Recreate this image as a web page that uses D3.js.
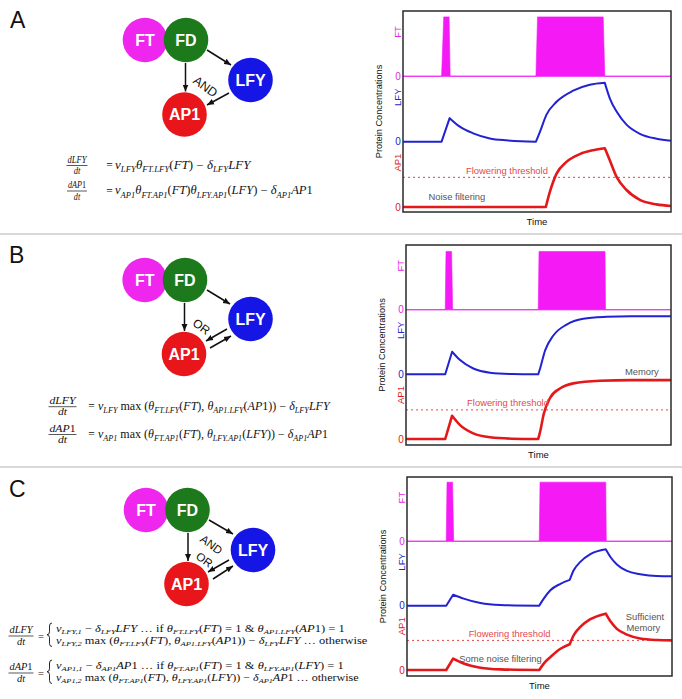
<!DOCTYPE html>
<html><head><meta charset="utf-8">
<script src="https://cdn.jsdelivr.net/npm/d3@7/dist/d3.min.js"></script>
<style>html,body{margin:0;padding:0;background:#fff}svg{display:block}</style>
</head><body>
<svg id="fig" width="682" height="699" xmlns="http://www.w3.org/2000/svg"></svg>
<script>
// ===================== DATA =====================
const timeDomain = [0, 100];
const seriesNames = ["FT", "LFY", "AP1"];
const zeroTick = "0";
const xAxisTitle = "Time";
const yAxisTitle = "Protein Concentrations";
const nodeNames = ["FT", "FD", "LFY", "AP1"];
const thresholdLabel = "Flowering threshold";

// Panel A (AND gate)  -- [time, level in band units]
const ftA  = [[0,0],[14.4,0],[15.2,0.91],[17.2,0.91],[17.6,0],[49.6,0],[50.2,0.91],[74.7,0.91],[75.3,0],[100,0]];
const lfyA = [[0,0],[14.4,0],[17.4,0.36],[21.2,0.23],[26.2,0.128],[32.4,0.05],[38.6,0.02],[44,0.006],[49.6,0],[51.1,0.15],[53.5,0.41],[57.3,0.61],[63.5,0.78],[69.7,0.87],[75.3,0.9],[77.2,0.66],[79.7,0.46],[83.4,0.26],[88.4,0.12],[94.6,0.045],[100,0.015]];
const ap1A = [[0,0],[53.3,0],[54.8,0.23],[57.3,0.51],[61,0.69],[66,0.81],[71,0.87],[75.3,0.9],[77.2,0.71],[79.7,0.46],[83.4,0.26],[88.4,0.11],[94.6,0.04],[100,0.015]];
const cornersA = [14.4, 17.4, 49.6, 53.3, 75.3];
const thresholdA = 0.454;
const notesA = [{text:"Noise filtering", t:20.1, v:0.105}];

// Panel B (OR gate with feedback)
const ftB  = [[0,0],[14.8,0],[15.1,0.9],[17.2,0.9],[17.6,0],[49.9,0],[50.2,0.9],[75.1,0.9],[75.3,0],[100,0]];
const lfyB = [[0,0],[14.8,0],[17.4,0.35],[20.4,0.22],[25.4,0.09],[31.7,0.026],[40,0.005],[49.9,0],[50.6,0.09],[52.5,0.37],[55.6,0.6],[60.6,0.77],[66.9,0.86],[75.7,0.89],[85,0.9],[100,0.9]];
const ap1B = [[0,0],[14.8,0],[17.4,0.36],[20.4,0.215],[25.4,0.087],[31.7,0.026],[40,0.005],[49.9,0],[50.6,0.11],[52,0.39],[54.3,0.63],[58.1,0.78],[63.1,0.86],[73.2,0.9],[85,0.91],[100,0.91]];
const cornersB = [14.8, 17.4, 49.9];
const thresholdB = 0.45;
const notesB = [{text:"Memory", t:89, v:0.99}];

// Panel C (AND / OR)
const ftC  = [[0,0],[14.8,0],[15.1,0.92],[17.2,0.92],[17.6,0],[49.9,0],[50.2,0.92],[75,0.92],[75.2,0],[100,0]];
const lfyC = [[0,0],[14.8,0],[17.4,0.17],[21.4,0.11],[27.7,0.04],[35.2,0.01],[49.9,0],[51.6,0.11],[54.1,0.24],[57.9,0.34],[61.4,0.4],[62.9,0.55],[65.4,0.68],[69.2,0.8],[75,0.876],[76.7,0.76],[79.2,0.64],[83,0.54],[88,0.49],[94.3,0.46],[100,0.456]];
const ap1C = [[0,0],[14.8,0],[17.4,0.176],[21.4,0.1],[27.7,0.036],[35.2,0.01],[49.9,0],[51.6,0.1],[54.1,0.2],[57.9,0.33],[61.4,0.4],[62.9,0.54],[65.4,0.67],[69.2,0.79],[75,0.876],[76.7,0.76],[79.2,0.64],[83,0.55],[88,0.49],[94.3,0.466],[100,0.46]];
const cornersC = [14.8, 17.4, 49.9, 61.4, 75];
const thresholdC = 0.46;
const notesC = [{text:"Sufficient", t:89.8, v:0.78},{text:"Memory", t:89.2, v:0.61},{text:"Some noise filtering", t:35.3, v:0.125}];

// Equations
const eqDen = "dt";
const eqLhs = ["dLFY", "dAP1"];
const eqA = ["ν_{LFY}θ_{FT.LFY}(FT) − δ_{LFY}LFY",
             "ν_{AP1}θ_{FT.AP1}(FT)θ_{LFY.AP1}(LFY) − δ_{AP1}AP1"];
const eqB = ["ν_{LFY}~ max ~(θ_{FT.LFY}(FT), θ_{AP1.LFY}(AP1)) − δ_{LFY}LFY",
             "ν_{AP1}~ max ~(θ_{FT.AP1}(FT), θ_{LFY.AP1}(LFY)) − δ_{AP1}AP1"];
const eqC = [["ν_{LFY,1} − δ_{LFY}LFY …~ if ~θ_{FT.LFY}(FT) = 1 & θ_{AP1.LFY}(AP1) = 1",
              "ν_{LFY,2}~ max ~(θ_{FT.LFY}(FT), θ_{AP1.LFY}(AP1)) − δ_{LFY}LFY …~ otherwise~"],
             ["ν_{AP1,1} − δ_{AP1}AP1 …~ if ~θ_{FT.AP1}(FT) = 1 & θ_{LFY.AP1}(LFY) = 1",
              "ν_{AP1,2}~ max ~(θ_{FT.AP1}(FT), θ_{LFY.AP1}(LFY)) − δ_{AP1}AP1 …~ otherwise~"]];

// ===================== STYLE / LAYOUT =====================
const C = {ft:"#f51af5", ftBase:"#f3a3f3", lfy:"#2222d2", ap1:"#e4181b", thr:"#e5484a",
           ftLbl:"#e626e6", lfyLbl:"#2424c8", ap1Lbl:"#e0191b", note:"#555", frame:"#2a2a2a"};
const nodeColor = {FT:"#ee26ee", FD:"#1c7a1c", LFY:"#1515e6", AP1:"#e8151a"};
const SANS = "'Liberation Sans', Arial, Helvetica, sans-serif";
const SERIF = "'Liberation Serif', 'DejaVu Serif', serif";

const svg = d3.select("#fig");
const defs = svg.append("defs");
defs.append("marker").attr("id","ah").attr("viewBox","0 0 8 8").attr("refX",8).attr("refY",4)
  .attr("markerWidth",7).attr("markerHeight",7).attr("markerUnits","userSpaceOnUse").attr("orient","auto")
  .append("path").attr("d","M0,0.6L8,4L0,7.4Z").attr("fill","#111");

// separators
[234, 467].forEach(yy => svg.append("line").attr("x1",0).attr("x2",682).attr("y1",yy).attr("y2",yy)
  .attr("stroke","#b4b4b4").attr("stroke-width",1.2));

// ===================== CHARTS =====================
function splitAt(pts, corners) {
  const segs = []; let cur = [];
  pts.forEach((p, i) => {
    cur.push(p);
    if (i > 0 && i < pts.length - 1 && corners.includes(p[0])) { segs.push(cur); cur = [p]; }
  });
  segs.push(cur);
  return segs;
}

function drawChart(p) {
  const {l, r, t, b, base} = p.box;
  const x = d3.scaleLinear().domain(timeDomain).range([l, r]);
  const y = d3.scaleLinear().domain([0, 3]).range([base, t]);
  const g = svg.append("g");
  g.append("line").attr("x1", l).attr("x2", r).attr("y1", y(2)).attr("y2", y(2))
    .attr("stroke", C.ftBase).attr("stroke-width", 1.5);
  g.append("path").datum(p.ft)
    .attr("d", d3.area().x(d => x(d[0])).y0(y(2)).y1(d => y(2 + d[1])))
    .attr("fill", C.ft).attr("stroke", C.ft).attr("stroke-width", 0.6);
  g.append("line").attr("x1", l).attr("x2", r).attr("y1", y(p.thr)).attr("y2", y(p.thr))
    .attr("stroke", C.thr).attr("stroke-width", 1).attr("stroke-dasharray", "2,3");
  const curve = (pts, off) => {
    const ln = d3.line().x(d => x(d[0])).y(d => y(off + d[1])).curve(d3.curveMonotoneX);
    return splitAt(pts, p.corners).map((s, i) => { const d = ln(s); return i ? d.replace(/^M/, "L") : d; }).join("");
  };
  g.append("path").attr("d", curve(p.lfy, 1)).attr("fill","none").attr("stroke", C.lfy)
    .attr("stroke-width", 2).attr("stroke-linejoin","round");
  g.append("path").attr("d", curve(p.ap1, 0)).attr("fill","none").attr("stroke", C.ap1)
    .attr("stroke-width", 2.6).attr("stroke-linejoin","round");
  g.append("rect").attr("x", l).attr("y", t).attr("width", r - l).attr("height", b - t)
    .attr("fill","none").attr("stroke", C.frame).attr("stroke-width", 1.5);
  const lblCol = [C.ftLbl, C.lfyLbl, C.ap1Lbl];
  seriesNames.forEach((nm, i) => {
    const off = 2 - i;
    g.append("text").attr("transform", `translate(${l - 2.5},${y(off + 0.68)}) rotate(-90)`)
      .attr("text-anchor","middle").attr("font-family", SANS).attr("font-size", 9.5)
      .attr("fill", lblCol[i]).text(nm);
    g.append("text").attr("x", l - 5).attr("y", y(off) + 3.5).attr("text-anchor","middle")
      .attr("font-family", SANS).attr("font-size", 10).attr("fill", lblCol[i]).text(zeroTick);
  });
  g.append("text").attr("transform", `translate(${l - 21},${(t + b) / 2}) rotate(-90)`)
    .attr("text-anchor","middle").attr("font-family", SANS).attr("font-size", 9.2).attr("fill","#111").text(yAxisTitle);
  g.append("text").attr("x", (l + r) / 2).attr("y", b + 13).attr("text-anchor","middle")
    .attr("font-family", SANS).attr("font-size", 9.5).attr("fill","#111").text(xAxisTitle);
  g.append("text").attr("x", x(p.thrLbl.t)).attr("y", y(p.thrLbl.v)).attr("text-anchor","middle")
    .attr("font-family", SANS).attr("font-size", 9.4).attr("fill", C.thr).text(thresholdLabel);
  p.notes.forEach(n => g.append("text").attr("x", x(n.t)).attr("y", y(n.v)).attr("text-anchor","middle")
    .attr("font-family", SANS).attr("font-size", 9.4).attr("fill", C.note).text(n.text));
}

drawChart({ft:ftA, lfy:lfyA, ap1:ap1A, thr:thresholdA, corners:cornersA, notes:notesA,
  thrLbl:{t:38.8, v:0.5}, box:{l:403, r:671, t:11, b:212, base:207}});
drawChart({ft:ftB, lfy:lfyB, ap1:ap1B, thr:thresholdB, corners:cornersB, notes:notesB,
  thrLbl:{t:38.5, v:0.51}, box:{l:406, r:671, t:245, b:445, base:439}});
drawChart({ft:ftC, lfy:lfyC, ap1:ap1C, thr:thresholdC, corners:cornersC, notes:notesC,
  thrLbl:{t:38.7, v:0.51}, box:{l:407, r:672, t:477, b:676, base:670}});

// ===================== PANEL LETTERS =====================
[["A",10,28],["B",9,263],["C",9,497]].forEach(([s, xx, yy]) =>
  svg.append("text").attr("x", xx).attr("y", yy).attr("font-family", SANS).attr("font-size", 23).attr("fill","#111").text(s));

// ===================== NETWORK DIAGRAMS =====================
function drawNet(pos, arrows, logic) {
  const g = svg.append("g");
  arrows.forEach(a => g.append("line").attr("x1", a[0]).attr("y1", a[1]).attr("x2", a[2]).attr("y2", a[3])
    .attr("stroke","#111").attr("stroke-width",1.5).attr("marker-end","url(#ah)"));
  nodeNames.forEach(n => {
    g.append("circle").attr("cx", pos[n][0]).attr("cy", pos[n][1]).attr("r", 22.3).attr("fill", nodeColor[n]);
    g.append("text").attr("x", pos[n][0]).attr("y", pos[n][1] + 5.8).attr("text-anchor","middle")
      .attr("font-family", SANS).attr("font-weight","bold").attr("font-size", 16).attr("fill","#fff").text(n);
  });
  logic.forEach(L => g.append("text").attr("transform", `translate(${L.x},${L.y}) rotate(36)`)
    .attr("text-anchor","middle").attr("font-family", SANS).attr("font-size", L.fs).attr("fill","#111").text(L.text));
}
drawNet({FT:[145,40], FD:[186,40], LFY:[250.5,80], AP1:[184.5,114.5]},
  [[185.5,63,185.5,91.5],[207,50,231,65],[229,93,207,105]],
  [{text:"AND", x:203, y:90, fs:12.5}]);
drawNet({FT:[144.7,280], FD:[185,280], LFY:[250.5,319], AP1:[184,354]},
  [[184.5,303,184.5,331],[207,290,230,304],[227,329,206,341],[210,348,231,336]],
  [{text:"OR", x:199, y:330, fs:12}]);
drawNet({FT:[146,510], FD:[187.5,510], LFY:[253,550], AP1:[186.5,584]},
  [[188,533,188,561],[209,520,233,534],[229,560,208,572],[213,579,233,566]],
  [{text:"AND", x:209, y:548, fs:11.5}, {text:"OR", x:202, y:563, fs:11.5}]);

// ===================== EQUATIONS =====================
function parseMath(s) {
  const out = [];
  const re = /_\{([^}]*)\}|~([^~]*)~|([A-Za-zνθδ]+)|([^A-Za-zνθδ_~]+)/g;
  let m;
  while ((m = re.exec(s))) {
    if (m[1] !== undefined) out.push({t:m[1], sub:true});
    else if (m[2] !== undefined) out.push({t:m[2], it:false});
    else if (m[3] !== undefined) out.push({t:m[3], it:true});
    else out.push({t:m[4], it:false});
  }
  return out;
}
function mathText(x, y, s, fs, opt = {}) {
  const t = svg.append("text").attr("x", x).attr("y", y).attr("font-size", fs)
    .attr("font-family", SERIF).attr("text-anchor", opt.anchor || "start")
    .style("white-space","pre").attr("fill","#111");
  let sub = false; const sh = fs * (opt.subShift || 0.28);
  parseMath(s).forEach(tok => {
    const ts = t.append("tspan").text(tok.t);
    if (tok.sub) { ts.attr("font-size", fs * 0.68).attr("font-style","italic"); if (!sub) ts.attr("dy", sh); sub = true; }
    else { ts.attr("font-style", tok.it ? "italic" : "normal"); if (sub) ts.attr("dy", -sh); sub = false; }
  });
  const w = t.node().getComputedTextLength();
  let sx = opt.sx || 1;
  if (opt.end != null) sx = (opt.end - x) / w;
  if (opt.width != null) sx = opt.width / w;
  if (sx !== 1) t.attr("transform", `translate(${x},0) scale(${sx},1) translate(${-x},0)`);
  return {sx, w: w * sx};
}
function frac(cx, bar, num, fs, W) {
  const n = mathText(cx, bar - 2.8, num, fs, {anchor:"middle", width:W});
  mathText(cx, bar + 8.8, eqDen, fs, {anchor:"middle", sx:n.sx});
  svg.append("line").attr("x1", cx - W / 2 - 1).attr("x2", cx + W / 2 + 1).attr("y1", bar).attr("y2", bar)
    .attr("stroke","#111").attr("stroke-width",0.7);
}
function brace(x, y0, y1) {
  const w = 5, ym = (y0 + y1) / 2, xm = x + w / 2;
  const d = `M${x+w},${y0} Q${xm},${y0} ${xm},${y0+3} L${xm},${ym-3} Q${xm},${ym} ${x},${ym} Q${xm},${ym} ${xm},${ym+3} L${xm},${y1-3} Q${xm},${y1} ${x+w},${y1}`;
  svg.append("path").attr("d", d).attr("fill","none").attr("stroke","#111").attr("stroke-width",0.9);
}
function eqSign(x, y, fs) { mathText(x, y, "=", fs, {anchor:"middle"}); }

// A
[[165.5, 250.5, 19], [191, 313, 18]].forEach(([bar, end, W], i) => {
  frac(77, bar, eqLhs[i], 10.5, W);
  eqSign(109.5, bar + 3.5, 11.5);
  mathText(115, bar + 3.5, eqA[i], 11.5, {end});
});
// B
[[406.7, 330, 26], [434.5, 328, 26]].forEach(([bar, end, W], i) => {
  frac(62.5, bar, eqLhs[i], 10.5, W);
  eqSign(91.5, bar + 3.5, 11.5);
  mathText(98, bar + 3.5, eqB[i], 11.5, {end});
});
// C
[{bar:636, b1:632, b2:644, e1:345, e2:368}, {bar:673, b1:669, b2:681, e1:344, e2:359}].forEach((q, i) => {
  frac(21, q.bar, eqLhs[i], 10.5, 23);
  eqSign(41, q.bar + 3.5, 10.5);
  brace(47, q.b1 - 9, q.b2 + 2.5);
  mathText(56, q.b1, eqC[i][0], 10, {end:q.e1, subShift:0.2});
  mathText(56, q.b2, eqC[i][1], 10, {end:q.e2, subShift:0.2});
});
</script>
</body></html>
